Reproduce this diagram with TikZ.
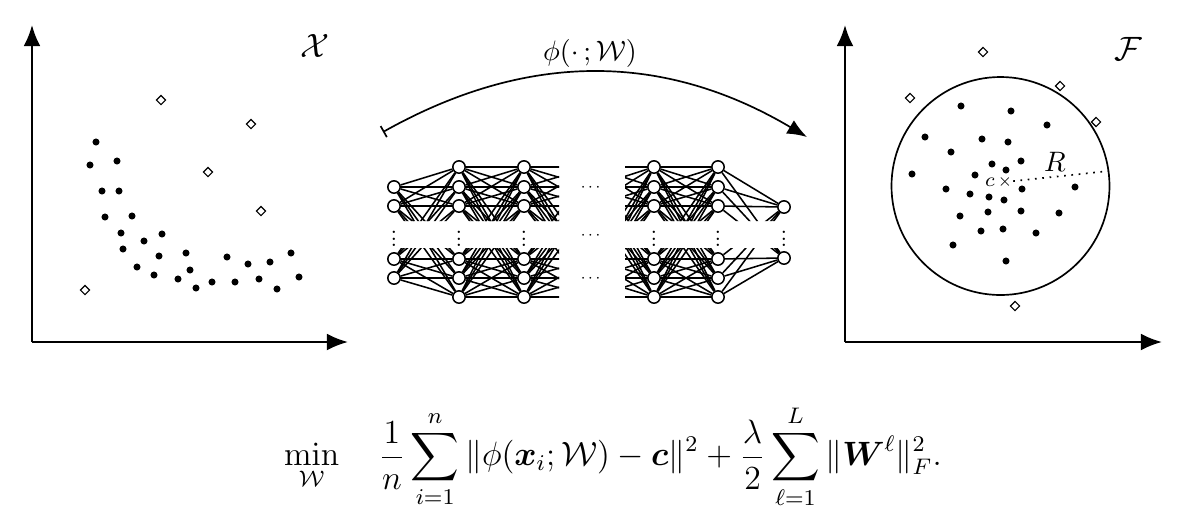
\documentclass[tikz,border=0pt]{standalone}
\usepackage{amsmath,amssymb}
\usetikzlibrary{arrows.meta,shapes.geometric}
\newcommand{\smvdots}{\scalebox{0.6}{\Large$\vdots$}}
\newcommand{\smcdots}{\scalebox{0.6}{$\cdots$}}
\tikzset{
  pt/.style={circle,fill,inner sep=0pt,minimum size=2.5pt},
  outl/.style={diamond,draw,fill=white,inner sep=0pt,minimum size=3.4pt,line width=0.4pt},
  neur/.style={circle,draw,fill=white,inner sep=0pt,minimum size=4.4pt,line width=0.55pt},
  axis/.style={thick,-{Latex[length=7.5pt,width=6pt]}},
}

\begin{document}
\begin{tikzpicture}[x=0.0125cm,y=-0.0125cm]
\useasboundingbox (0,0) rectangle (1200,517);
\coordinate (o1) at (32,342);
\coordinate (y1) at (32,25);
\coordinate (x1) at (348,342);
\draw [axis] (o1)--(y1);
\draw [axis] (o1)--(x1);
\node [font=\large] (lX) at (315,46) {$\mathcal{X}$};
\foreach \p [count=\i] in {(96,142),(90,165),(117,161),(102,191),(119,191),(105,217),(132,216),(121,233),(162,234),(144,241),(123,249),(159,256),(186,253),(137,267),(154,275),(190,270),(178,279),(196,288),(212,282),(227,257),(235,282),(248,264),(259,279),(270,262),(291,253),(277,289),(299,277)}
  \node [pt] (x\i) at \p {};
\foreach \p [count=\i] in {(161,100),(251,124),(208,172),(261,211),(85,290)}
  \node [outl] (xo\i) at \p {};

\coordinate (o2) at (845,342);
\coordinate (y2) at (845,25);
\coordinate (x2) at (1162,342);
\draw [axis] (o2)--(y2);
\draw [axis] (o2)--(x2);
\node [font=\large] (lF) at (1128,49) {$\mathcal{F}$};
\draw [semithick] (1000.5,186) circle (109);
\foreach \p [count=\i] in {(961,106),(1011,111),(1047,125),(925,137),(982,139),(1008,142),(951,152),(1021,161),(992,164),(1006,170),(975,175),(912,174),(1022,189),(1075,187),(946,189),(970,194),(989,197),(1004,200),(988,212),(1021,211),(1059,213),(960,216),(981,231),(1003,229),(1036,233),(953,245),(1006,261)}
  \node [pt] (f\i) at \p {};
\foreach \p [count=\i] in {(983,52),(1060,86),(910,98),(1096,122),(1015,306)}
  \node [outl] (fo\i) at \p {};
\node [inner sep=0pt,font=\tiny] (ctr) at (1005,182) {$\times$};
\node [font=\scriptsize] (lc) at (990,182) {$c$};
\coordinate (rim) at (1109,171);
\draw [dotted,semithick] (ctr)--(rim);
\node (lR) at (1055,162) {$R$};

\coordinate (as) at (383,132);
\coordinate (ae) at (807,137);
\draw [semithick,{Bar[width=4.5pt]}-{Latex[length=7pt,width=5.5pt]}] (as) to[bend left=30] (ae);
\node (lphi) at (590,53) {$\phi(\cdot\,;\mathcal{W})$};

\foreach \y [count=\i] in {187,206,259,278}
  \node [neur] (n1-\i) at (394,\y) {};
\foreach \l/\x in {2/459,3/524,4/654,5/718}
  \foreach \y [count=\i] in {167,187,206,259,278,297}
    \node [neur] (n\l-\i) at (\x,\y) {};
\foreach \y [count=\i] in {167,187,206,259,278,297}
  \coordinate (v-\i) at (592,\y);
\foreach \y [count=\i] in {207,258}
  \node [neur] (n6-\i) at (784,\y) {};
\begin{scope}[line width=0.55pt]
\clip (380,150) rectangle (559,221) (380,248) rectangle (559,312)
      (625,150) rectangle (800,221) (625,248) rectangle (800,312);
\foreach \i in {1,...,4}
  \foreach \j in {1,...,6}
    \draw (n1-\i)--(n2-\j);
\foreach \i in {1,...,6}
  \foreach \j in {1,...,6} {
    \draw (n2-\i)--(n3-\j);
    \draw (n3-\i)--(v-\j);
    \draw (v-\i)--(n4-\j);
    \draw (n4-\i)--(n5-\j);
  }
\foreach \i in {1,...,6}
  \foreach \j in {1,2}
    \draw (n5-\i)--(n6-\j);
\end{scope}
\foreach \x [count=\i] in {394,459,524,654,718,784}
  \node [inner sep=0pt] (vd\i) at (\x,234) {\smvdots};
\foreach \y [count=\i] in {188,236,279}
  \node [inner sep=0pt] (hd\i) at (592,\y) {\smcdots};

\node [font=\large] (obj) at (613,457) {$\displaystyle \min_{\mathcal{W}}\quad \frac{1}{n}\sum_{i=1}^{n}\|\phi(\boldsymbol{x}_i;\mathcal{W})-\boldsymbol{c}\|^2+\frac{\lambda}{2}\sum_{\ell=1}^{L}\|\boldsymbol{W}^{\ell}\|_F^2.$};
\end{tikzpicture}
\end{document}
